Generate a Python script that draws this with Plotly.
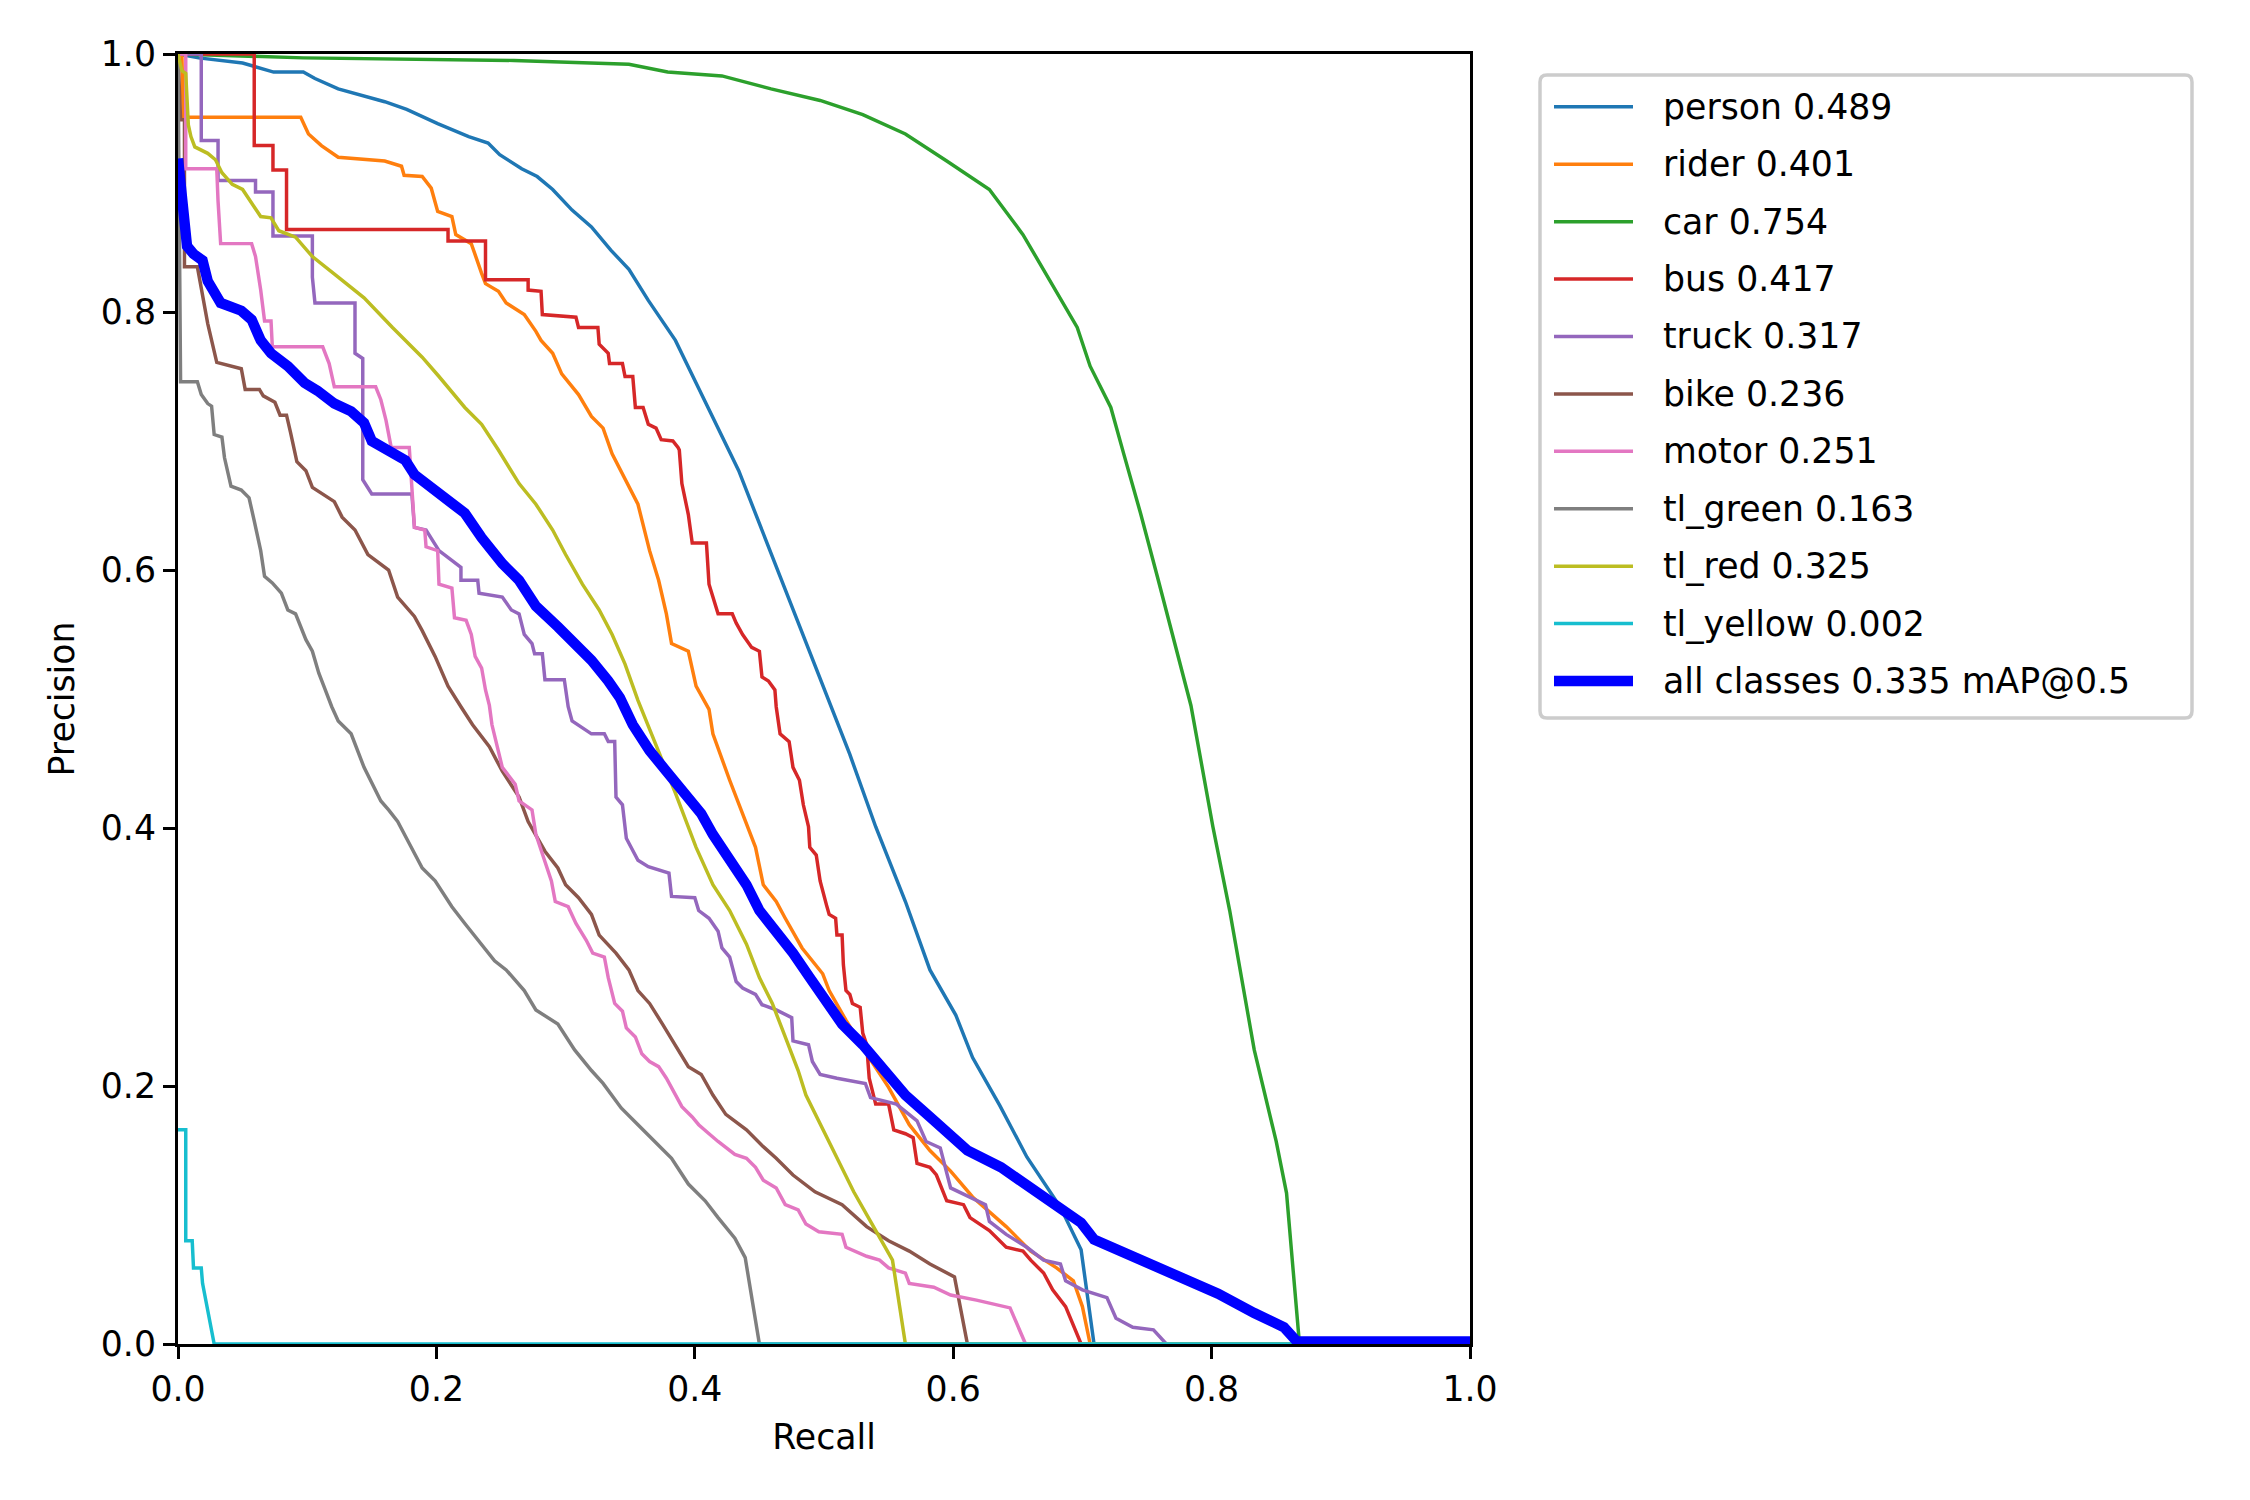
import plotly.graph_objects as go

# ---------------- data ----------------
class_names = ["person", "rider", "car", "bus", "truck", "bike", "motor",
               "tl_green", "tl_red", "tl_yellow"]
class_ap = [0.489, 0.401, 0.754, 0.417, 0.317, 0.236, 0.251, 0.163, 0.325, 0.002]
map50 = 0.335
class_colors = ["#1f77b4", "#ff7f0e", "#2ca02c", "#d62728", "#9467bd",
                "#8c564b", "#e377c2", "#7f7f7f", "#bcbd22", "#17becf"]

# (recall, precision) pairs
person = [(0.0, 1.0), (0.016, 0.997), (0.050, 0.993), (0.074, 0.986), (0.097, 0.986), (0.106, 0.981),
          (0.124, 0.973), (0.142, 0.968), (0.160, 0.963), (0.177, 0.957), (0.201, 0.946), (0.225, 0.936),
          (0.240, 0.931), (0.249, 0.922), (0.266, 0.911), (0.278, 0.905), (0.290, 0.895), (0.305, 0.879),
          (0.320, 0.866), (0.335, 0.848), (0.349, 0.833), (0.364, 0.809), (0.373, 0.796), (0.385, 0.778),
          (0.401, 0.745), (0.434, 0.677), (0.466, 0.595), (0.504, 0.499), (0.520, 0.457), (0.540, 0.401),
          (0.563, 0.343), (0.582, 0.290), (0.602, 0.255), (0.615, 0.222), (0.636, 0.185), (0.657, 0.145),
          (0.683, 0.106), (0.699, 0.073), (0.704, 0.034), (0.709, 0.0), (1.0, 0.0)]

rider = [(0.0, 1.0), (0.003, 1.0), (0.004, 0.951), (0.095, 0.951), (0.101, 0.938), (0.111, 0.929),
         (0.124, 0.920), (0.160, 0.917), (0.173, 0.913), (0.175, 0.906), (0.189, 0.905), (0.196, 0.896),
         (0.201, 0.878), (0.212, 0.874), (0.215, 0.860), (0.227, 0.853), (0.235, 0.830), (0.238, 0.822),
         (0.248, 0.816), (0.254, 0.807), (0.268, 0.798), (0.277, 0.785), (0.281, 0.778), (0.290, 0.768),
         (0.297, 0.752), (0.310, 0.736), (0.320, 0.719), (0.329, 0.710), (0.336, 0.690), (0.346, 0.670),
         (0.356, 0.651), (0.365, 0.615), (0.372, 0.592), (0.378, 0.566), (0.382, 0.543), (0.395, 0.537),
         (0.401, 0.510), (0.411, 0.492), (0.414, 0.473), (0.427, 0.437), (0.437, 0.411), (0.447, 0.385),
         (0.453, 0.356), (0.463, 0.343), (0.470, 0.330), (0.483, 0.307), (0.499, 0.287), (0.504, 0.274),
         (0.517, 0.251), (0.533, 0.225), (0.550, 0.199), (0.566, 0.170), (0.582, 0.150), (0.598, 0.134),
         (0.615, 0.114), (0.641, 0.091), (0.660, 0.072), (0.680, 0.059), (0.693, 0.049), (0.700, 0.029),
         (0.706, 0.0), (1.0, 0.0)]

car = [(0.0, 1.0), (0.097, 0.997), (0.260, 0.995), (0.349, 0.992), (0.379, 0.986), (0.421, 0.983),
       (0.459, 0.973), (0.497, 0.964), (0.530, 0.953), (0.563, 0.938), (0.595, 0.917), (0.628, 0.895),
       (0.654, 0.860), (0.673, 0.827), (0.696, 0.788), (0.706, 0.758), (0.722, 0.726), (0.732, 0.690),
       (0.745, 0.644), (0.758, 0.595), (0.771, 0.546), (0.784, 0.495), (0.801, 0.401), (0.814, 0.336),
       (0.833, 0.228), (0.850, 0.157), (0.858, 0.117), (0.868, 0.0), (1.0, 0.0)]

bus = [(0.0, 1.0), (0.059, 1.0), (0.059, 0.929), (0.0735, 0.929), (0.0735, 0.910), (0.084, 0.910),
       (0.084, 0.864), (0.209, 0.864), (0.209, 0.855), (0.238, 0.855), (0.238, 0.825), (0.271, 0.825),
       (0.271, 0.817), (0.281, 0.816), (0.282, 0.798), (0.308, 0.796), (0.310, 0.788), (0.325, 0.788),
       (0.326, 0.775), (0.333, 0.768), (0.334, 0.760), (0.344, 0.760), (0.346, 0.750), (0.352, 0.750),
       (0.354, 0.726), (0.360, 0.726), (0.364, 0.713), (0.370, 0.710), (0.374, 0.701), (0.383, 0.700),
       (0.387, 0.695), (0.388, 0.693), (0.390, 0.667), (0.395, 0.643), (0.398, 0.621), (0.409, 0.621),
       (0.411, 0.589), (0.414, 0.579), (0.418, 0.566), (0.429, 0.566), (0.432, 0.559), (0.437, 0.550),
       (0.444, 0.540), (0.450, 0.537), (0.452, 0.517), (0.457, 0.514), (0.462, 0.507), (0.463, 0.494),
       (0.466, 0.473), (0.473, 0.467), (0.476, 0.447), (0.481, 0.437), (0.484, 0.418), (0.488, 0.401),
       (0.489, 0.385), (0.494, 0.379), (0.497, 0.359), (0.502, 0.340), (0.504, 0.333), (0.509, 0.330),
       (0.510, 0.317), (0.514, 0.317), (0.515, 0.294), (0.517, 0.274), (0.520, 0.271), (0.522, 0.264),
       (0.528, 0.261), (0.530, 0.241), (0.533, 0.232), (0.535, 0.206), (0.540, 0.186), (0.550, 0.186),
       (0.554, 0.166), (0.563, 0.163), (0.569, 0.160), (0.572, 0.140), (0.582, 0.137), (0.587, 0.131),
       (0.595, 0.111), (0.608, 0.108), (0.613, 0.098), (0.628, 0.088), (0.641, 0.075), (0.654, 0.072),
       (0.660, 0.065), (0.670, 0.055), (0.677, 0.042), (0.687, 0.029), (0.699, 0.0), (1.0, 0.0)]

truck = [(0.0, 1.0), (0.018, 1.0), (0.018, 0.933), (0.031, 0.933), (0.031, 0.902), (0.060, 0.902),
         (0.060, 0.893), (0.0735, 0.893), (0.0735, 0.859), (0.104, 0.859), (0.104, 0.827), (0.106, 0.807),
         (0.137, 0.807), (0.137, 0.768), (0.143, 0.764), (0.143, 0.670), (0.150, 0.659), (0.181, 0.659),
         (0.183, 0.633), (0.192, 0.631), (0.202, 0.615), (0.219, 0.602), (0.219, 0.592), (0.232, 0.592),
         (0.233, 0.582), (0.251, 0.579), (0.258, 0.569), (0.264, 0.566), (0.268, 0.550), (0.274, 0.543),
         (0.276, 0.535), (0.282, 0.535), (0.284, 0.515), (0.299, 0.515), (0.302, 0.494), (0.305, 0.483),
         (0.320, 0.473), (0.330, 0.473), (0.333, 0.467), (0.338, 0.467), (0.339, 0.424), (0.344, 0.418),
         (0.347, 0.392), (0.356, 0.375), (0.364, 0.370), (0.380, 0.365), (0.382, 0.347), (0.400, 0.346),
         (0.403, 0.336), (0.411, 0.330), (0.418, 0.320), (0.421, 0.307), (0.427, 0.300), (0.432, 0.281),
         (0.437, 0.276), (0.447, 0.271), (0.452, 0.263), (0.463, 0.259), (0.475, 0.253), (0.476, 0.235),
         (0.488, 0.232), (0.491, 0.219), (0.497, 0.209), (0.510, 0.206), (0.532, 0.202), (0.536, 0.191),
         (0.556, 0.186), (0.572, 0.173), (0.579, 0.157), (0.590, 0.152), (0.598, 0.121), (0.612, 0.114),
         (0.625, 0.108), (0.628, 0.095), (0.641, 0.085), (0.657, 0.075), (0.670, 0.065), (0.683, 0.062),
         (0.687, 0.049), (0.700, 0.042), (0.719, 0.036), (0.726, 0.020), (0.739, 0.013), (0.755, 0.011),
         (0.765, 0.0), (1.0, 0.0)]

bike = [(0.0, 1.0), (0.002, 0.949), (0.005, 0.949), (0.005, 0.835), (0.015, 0.835), (0.023, 0.791),
        (0.030, 0.761), (0.049, 0.756), (0.052, 0.740), (0.063, 0.740), (0.066, 0.735), (0.075, 0.730),
        (0.079, 0.720), (0.084, 0.720), (0.087, 0.707), (0.092, 0.684), (0.099, 0.677), (0.104, 0.664),
        (0.121, 0.653), (0.127, 0.641), (0.137, 0.631), (0.147, 0.612), (0.163, 0.600), (0.170, 0.579),
        (0.183, 0.564), (0.189, 0.553), (0.199, 0.533), (0.209, 0.510), (0.219, 0.494), (0.228, 0.480),
        (0.241, 0.463), (0.251, 0.444), (0.264, 0.424), (0.271, 0.405), (0.284, 0.382), (0.294, 0.369),
        (0.300, 0.356), (0.310, 0.346), (0.320, 0.333), (0.326, 0.317), (0.339, 0.303), (0.349, 0.290),
        (0.356, 0.274), (0.365, 0.264), (0.375, 0.248), (0.385, 0.232), (0.395, 0.215), (0.405, 0.209),
        (0.414, 0.193), (0.424, 0.178), (0.440, 0.166), (0.453, 0.153), (0.463, 0.144), (0.476, 0.131),
        (0.493, 0.118), (0.514, 0.108), (0.533, 0.091), (0.550, 0.080), (0.566, 0.072), (0.582, 0.062),
        (0.595, 0.055), (0.601, 0.052), (0.611, 0.0), (1.0, 0.0)]

motor = [(0.0, 1.0), (0.006, 1.0), (0.006, 0.911), (0.030, 0.911), (0.031, 0.886), (0.033, 0.853),
         (0.057, 0.853), (0.060, 0.843), (0.064, 0.817), (0.067, 0.793), (0.072, 0.793), (0.073, 0.773),
         (0.112, 0.773), (0.117, 0.760), (0.121, 0.742), (0.153, 0.742), (0.157, 0.732), (0.161, 0.716),
         (0.165, 0.695), (0.179, 0.695), (0.183, 0.633), (0.191, 0.631), (0.192, 0.618), (0.201, 0.615),
         (0.202, 0.589), (0.212, 0.586), (0.214, 0.563), (0.223, 0.561), (0.227, 0.550), (0.230, 0.533),
         (0.235, 0.524), (0.238, 0.507), (0.241, 0.495), (0.243, 0.480), (0.251, 0.447), (0.261, 0.434),
         (0.264, 0.421), (0.274, 0.414), (0.277, 0.395), (0.284, 0.375), (0.289, 0.359), (0.292, 0.343),
         (0.302, 0.339), (0.308, 0.326), (0.316, 0.313), (0.321, 0.303), (0.330, 0.300), (0.333, 0.284),
         (0.338, 0.264), (0.344, 0.258), (0.347, 0.245), (0.354, 0.238), (0.359, 0.225), (0.365, 0.219),
         (0.372, 0.215), (0.378, 0.206), (0.385, 0.193), (0.390, 0.184), (0.398, 0.176), (0.403, 0.170),
         (0.411, 0.163), (0.418, 0.157), (0.431, 0.147), (0.440, 0.144), (0.447, 0.137), (0.453, 0.127),
         (0.463, 0.121), (0.470, 0.108), (0.480, 0.104), (0.486, 0.093), (0.496, 0.087), (0.514, 0.085),
         (0.517, 0.075), (0.533, 0.068), (0.543, 0.065), (0.550, 0.059), (0.563, 0.055), (0.566, 0.047),
         (0.585, 0.044), (0.598, 0.038), (0.618, 0.034), (0.644, 0.028), (0.656, 0.0), (1.0, 0.0)]

tl_green = [(0.0, 1.0), (0.002, 0.746), (0.015, 0.746), (0.018, 0.736), (0.023, 0.729), (0.026, 0.727),
            (0.028, 0.705), (0.034, 0.703), (0.036, 0.687), (0.041, 0.665), (0.049, 0.662), (0.055, 0.656),
            (0.059, 0.638), (0.064, 0.615), (0.067, 0.595), (0.073, 0.590), (0.080, 0.582), (0.085, 0.569),
            (0.091, 0.566), (0.095, 0.556), (0.099, 0.546), (0.104, 0.537), (0.109, 0.520), (0.114, 0.507),
            (0.119, 0.494), (0.124, 0.483), (0.134, 0.473), (0.144, 0.447), (0.157, 0.421), (0.163, 0.414),
            (0.170, 0.405), (0.179, 0.388), (0.189, 0.369), (0.199, 0.359), (0.212, 0.339), (0.222, 0.326),
            (0.232, 0.313), (0.245, 0.297), (0.254, 0.290), (0.268, 0.274), (0.277, 0.259), (0.294, 0.248),
            (0.307, 0.228), (0.320, 0.212), (0.329, 0.202), (0.343, 0.183), (0.356, 0.170), (0.369, 0.157),
            (0.382, 0.144), (0.395, 0.124), (0.408, 0.111), (0.418, 0.098), (0.431, 0.082), (0.439, 0.067),
            (0.450, 0.0), (1.0, 0.0)]

tl_red = [(0.0, 1.0), (0.003, 0.987), (0.006, 0.985), (0.008, 0.945), (0.010, 0.936), (0.013, 0.928),
          (0.023, 0.923), (0.029, 0.918), (0.034, 0.908), (0.042, 0.899), (0.050, 0.895), (0.059, 0.882),
          (0.064, 0.874), (0.072, 0.873), (0.078, 0.863), (0.091, 0.858), (0.104, 0.843), (0.124, 0.827),
          (0.144, 0.811), (0.166, 0.788), (0.189, 0.765), (0.202, 0.750), (0.222, 0.726), (0.235, 0.713),
          (0.248, 0.693), (0.264, 0.667), (0.277, 0.651), (0.290, 0.631), (0.300, 0.612), (0.313, 0.589),
          (0.326, 0.569), (0.336, 0.550), (0.346, 0.527), (0.356, 0.499), (0.369, 0.467), (0.385, 0.427),
          (0.401, 0.385), (0.414, 0.356), (0.427, 0.336), (0.440, 0.310), (0.450, 0.284), (0.460, 0.264),
          (0.470, 0.238), (0.480, 0.212), (0.486, 0.193), (0.496, 0.173), (0.510, 0.144), (0.523, 0.118),
          (0.536, 0.095), (0.553, 0.065), (0.563, 0.0), (1.0, 0.0)]

tl_yellow = [(0.0, 0.166), (0.006, 0.166), (0.006, 0.080), (0.011, 0.080), (0.012, 0.059), (0.018, 0.059),
             (0.019, 0.047), (0.028, 0.0), (1.0, 0.0)]

all_classes = [(0.0, 0.919), (0.004, 0.887), (0.007, 0.851), (0.012, 0.845), (0.019, 0.840), (0.023, 0.824),
               (0.033, 0.807), (0.049, 0.801), (0.057, 0.794), (0.064, 0.778), (0.072, 0.768), (0.085, 0.758),
               (0.098, 0.745), (0.108, 0.739), (0.121, 0.729), (0.134, 0.723), (0.144, 0.714), (0.150, 0.700),
               (0.163, 0.692), (0.176, 0.685), (0.183, 0.674), (0.196, 0.664), (0.212, 0.654), (0.222, 0.644),
               (0.235, 0.625), (0.251, 0.605), (0.264, 0.592), (0.277, 0.572), (0.294, 0.556), (0.307, 0.543),
               (0.320, 0.530), (0.333, 0.514), (0.342, 0.501), (0.352, 0.480), (0.365, 0.460), (0.378, 0.444),
               (0.391, 0.427), (0.405, 0.411), (0.414, 0.395), (0.427, 0.375), (0.440, 0.356), (0.450, 0.336),
               (0.463, 0.320), (0.476, 0.303), (0.489, 0.284), (0.502, 0.266), (0.514, 0.248), (0.530, 0.232),
               (0.546, 0.212), (0.563, 0.193), (0.582, 0.176), (0.611, 0.150), (0.637, 0.137), (0.663, 0.119),
               (0.686, 0.104), (0.699, 0.094), (0.709, 0.081), (0.727, 0.073), (0.766, 0.057), (0.805, 0.039),
               (0.833, 0.024), (0.856, 0.013), (0.866, 0.002), (1.0, 0.002)]

x_ticks = [0.0, 0.2, 0.4, 0.6, 0.8, 1.0]
y_ticks = [0.0, 0.2, 0.4, 0.6, 0.8, 1.0]

curves = [person, rider, car, bus, truck, bike, motor, tl_green, tl_red, tl_yellow]

# ---------------- figure ----------------
W, H = 2250, 1500
OFF = 8                          # page body margin in the browser
ML, MT = 178 - OFF, 54 - OFF
PW, PH = 1292, 1290
MR, MB = W - ML - PW, H - MT - PH
PT = 250 / 72.0                  # one point in pixels
FS = 10 * PT                     # font size
FONT = "DejaVu Sans"


def px2paper(X, Y):
    """target-image pixel -> paper coordinates"""
    return (X - 178) / PW, (54 + PH - Y) / PH


fig = go.Figure()
labels = []
for name, ap, col, pts in zip(class_names, class_ap, class_colors, curves):
    r, p = zip(*pts)
    lab = f"{name} {ap:.3f}"
    labels.append((lab, col, 1 * PT))
    fig.add_trace(go.Scatter(x=list(r), y=list(p), mode="lines", name=lab,
                             line=dict(color=col, width=1 * PT), showlegend=False,
                             hoverinfo="skip"))
r, p = zip(*all_classes)
lab_all = f"all classes {map50:.3f} mAP@0.5"
labels.append((lab_all, "blue", 3 * PT))
fig.add_trace(go.Scatter(x=list(r), y=list(p), mode="lines", name=lab_all,
                         line=dict(color="blue", width=3 * PT), showlegend=False,
                         hoverinfo="skip"))

# ---- manual legend (matplotlib style) ----
shapes = []
annotations = []
x0, y1 = px2paper(1540, 75)
x1, y0 = px2paper(2192, 718)
rx, ry = 7 / PW, 7 / PH
path = (f"M {x0+rx},{y1} L {x1-rx},{y1} Q {x1},{y1} {x1},{y1-ry} "
        f"L {x1},{y0+ry} Q {x1},{y0} {x1-rx},{y0} L {x0+rx},{y0} Q {x0},{y0} {x0},{y0+ry} "
        f"L {x0},{y1-ry} Q {x0},{y1} {x0+rx},{y1} Z")
shapes.append(dict(type="path", path=path, xref="paper", yref="paper",
                   line=dict(color="#cccccc", width=1 * PT),
                   fillcolor="rgba(255,255,255,0.8)", layer="above"))
row0, dy = 106.8, 57.42
for i, (lab, col, lw) in enumerate(labels):
    Y = row0 + i * dy
    lx0, ly = px2paper(1554, Y)
    lx1, _ = px2paper(1633, Y)
    shapes.append(dict(type="line", xref="paper", yref="paper", x0=lx0, x1=lx1, y0=ly, y1=ly,
                       line=dict(color=col, width=lw), layer="above"))
    tx, _ = px2paper(1661, Y)
    annotations.append(dict(text=lab, x=tx, y=ly, xref="paper", yref="paper",
                            xanchor="left", yanchor="middle", showarrow=False,
                            font=dict(family=FONT, size=FS, color="black")))

axis_common = dict(range=[0, 1], showgrid=False, zeroline=False, showline=True, mirror=True,
                   linecolor="black", linewidth=0.8 * PT, ticks="outside", ticklen=3.5 * PT,
                   tickwidth=0.8 * PT, tickcolor="black", tickformat=".1f",
                   tickfont=dict(family=FONT, size=FS, color="black"), automargin=False)

fig.update_layout(
    width=W, height=H,
    margin=dict(l=ML, r=MR, t=MT, b=MB, autoexpand=False),
    paper_bgcolor="white", plot_bgcolor="white",
    font=dict(family=FONT, size=FS, color="black"),
    xaxis=dict(**axis_common, tickvals=x_ticks,
               title=dict(text="Recall", font=dict(family=FONT, size=FS, color="black"), standoff=17)),
    yaxis=dict(**axis_common, tickvals=y_ticks,
               title=dict(text="Precision", font=dict(family=FONT, size=FS, color="black"), standoff=16)),
    shapes=shapes, annotations=annotations, showlegend=False,
)

fig.write_html("out.html")
